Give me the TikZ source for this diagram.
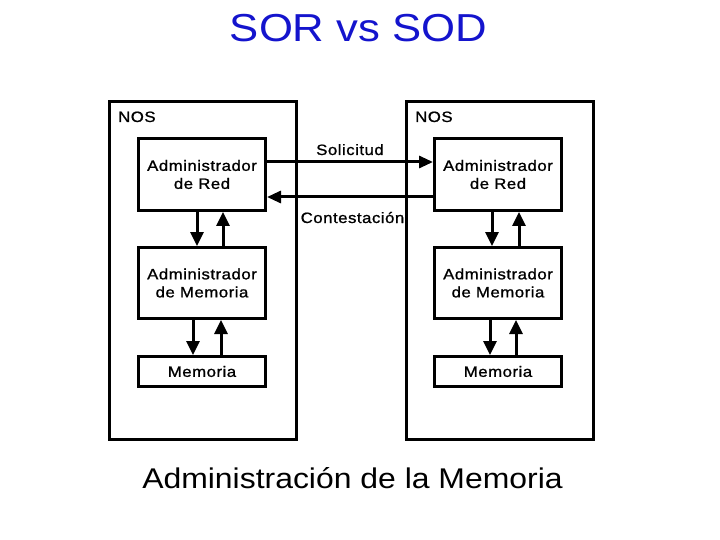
\documentclass[tikz,border=0pt]{standalone}
\usepackage{fontspec}
\usepackage{graphicx}
\setmainfont{Liberation Sans}
\newfontfamily\smallf[LetterSpace=3,FakeBold=1]{Liberation Sans}
\usetikzlibrary{arrows.meta}
\definecolor{titleblue}{RGB}{20,20,205}
\newcommand{\sx}[1]{\scalebox{1.12}[1]{#1}}
\tikzset{
  outerbox/.style={draw, line width=3pt},
  blockbox/.style={draw, line width=3pt, minimum width=127pt, align=center,
    inner sep=0pt, font=\smallf\fontsize{15}{18}\selectfont},
  lbl/.style={inner sep=0pt, anchor=base, font=\smallf\fontsize{15}{18}\selectfont},
  varr/.style={line width=3pt, -{Triangle[length=14pt,width=13pt]}},
  harr/.style={line width=3pt, -{Triangle[length=14pt,width=12pt]}}
}
\begin{document}
\begin{tikzpicture}[x=1pt,y=-1pt]
\useasboundingbox (0,0) rectangle (720,540);
% title
\node[inner sep=0pt, anchor=base, text=titleblue, font=\fontsize{39}{44}\selectfont] (title) at (358.5,42) {\sx{SOR vs SOD}};
% outer NOS frames
\draw[outerbox] (109.5,101.5) rectangle (296.5,439);
\draw[outerbox] (406.5,102) rectangle (593.5,439);
\node[lbl, anchor=base west] (nosL) at (118,122) {\sx{NOS}};
\node[lbl, anchor=base west] (nosR) at (415,122) {\sx{NOS}};
% left column
\node[blockbox, minimum height=72pt] (LR) at (202,174.5) {\sx{Administrador}\\\sx{de Red}};
\node[blockbox, minimum height=71pt] (LM) at (202,283) {\sx{Administrador}\\\sx{de Memoria}};
\node[blockbox, minimum height=30pt] (LMem) at (202,371.5) {\sx{Memoria}};
% right column
\node[blockbox, minimum height=72pt] (RR) at (498,174.5) {\sx{Administrador}\\\sx{de Red}};
\node[blockbox, minimum height=71pt] (RM) at (498,283) {\sx{Administrador}\\\sx{de Memoria}};
\node[blockbox, minimum height=30pt] (RMem) at (498,371.5) {\sx{Memoria}};
% vertical arrows left
\draw[varr] ([xshift=-5pt]LR.south) -- ([xshift=-5pt]LM.north);
\draw[varr] ([xshift=21pt]LM.north) -- ([xshift=21pt]LR.south);
\draw[varr] ([xshift=-9pt]LM.south) -- ([xshift=-9pt]LMem.north);
\draw[varr] ([xshift=19pt]LMem.north) -- ([xshift=19pt]LM.south);
% vertical arrows right
\draw[varr] ([xshift=-6pt]RR.south) -- ([xshift=-6pt]RM.north);
\draw[varr] ([xshift=21pt]RM.north) -- ([xshift=21pt]RR.south);
\draw[varr] ([xshift=-8pt]RM.south) -- ([xshift=-8pt]RMem.north);
\draw[varr] ([xshift=18pt]RMem.north) -- ([xshift=18pt]RM.south);
% horizontal arrows
\draw[harr] ([yshift=12.5pt]LR.east) -- ([yshift=12.5pt]RR.west);
\draw[harr] ([yshift=-22.5pt]RR.west) -- ([yshift=-22.5pt]LR.east);
\node[lbl] (sol) at (350,155) {\sx{Solicitud}};
\node[lbl] (con) at (352.5,223) {\sx{Contestación}};
% caption
\node[inner sep=0pt, anchor=base, font=\fontsize{28.5}{32}\selectfont] (cap) at (352.5,488.5) {\sx{Administración de la Memoria}};
\end{tikzpicture}
\end{document}
